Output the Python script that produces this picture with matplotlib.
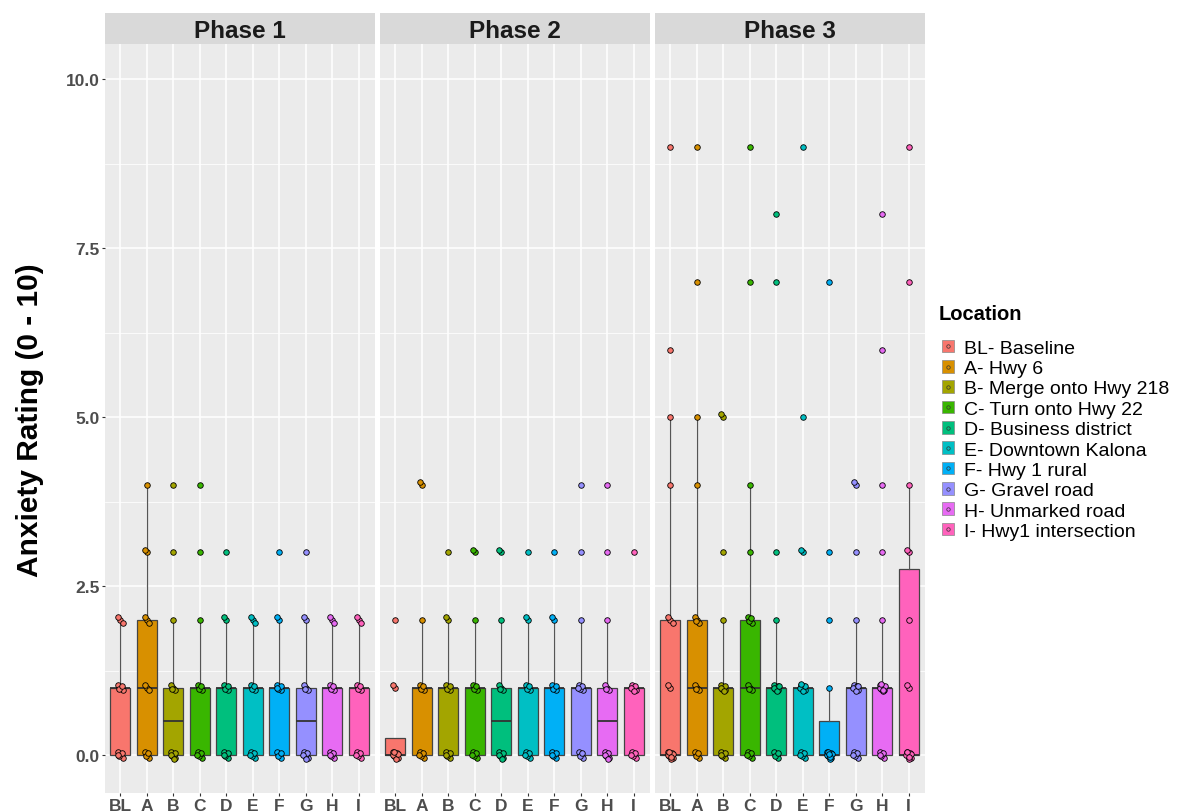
import numpy as np
import matplotlib.pyplot as plt
from matplotlib.patches import Patch
from matplotlib.lines import Line2D

plt.rcParams['font.family'] = ['Liberation Sans', 'DejaVu Sans']

codes = ['BL', 'A', 'B', 'C', 'D', 'E', 'F', 'G', 'H', 'I']
names = ['BL- Baseline', 'A- Hwy 6', 'B- Merge onto Hwy 218', 'C- Turn onto Hwy 22',
         'D- Business district', 'E- Downtown Kalona', 'F- Hwy 1 rural',
         'G- Gravel road', 'H- Unmarked road', 'I- Hwy1 intersection']
colors = ['#F8766D', '#D89000', '#A3A500', '#39B600', '#00BF7D',
          '#00BFC4', '#00B0F6', '#9590FF', '#E76BF3', '#FF62BC']
phases = ['Phase 1', 'Phase 2', 'Phase 3']

# ratings per location (BL, A ... I)
phase1 = [
    [0, 0, 0, 0, 0, 0, 1, 1, 1, 1, 1, 2, 2, 2],
    [0, 0, 0, 0, 0, 1, 1, 1, 2, 2, 2, 3, 3, 4],
    [0, 0, 0, 0, 0, 0, 0, 1, 1, 1, 1, 2, 3, 4],
    [0, 0, 0, 0, 0, 0, 1, 1, 1, 1, 1, 2, 3, 4],
    [0, 0, 0, 0, 0, 0, 1, 1, 1, 1, 1, 2, 2, 3],
    [0, 0, 0, 0, 0, 0, 1, 1, 1, 1, 1, 2, 2, 2],
    [0, 0, 0, 0, 0, 1, 1, 1, 1, 1, 1, 2, 2, 3],
    [0, 0, 0, 0, 0, 0, 0, 1, 1, 1, 1, 2, 2, 3],
    [0, 0, 0, 0, 0, 0, 1, 1, 1, 1, 1, 2, 2, 2],
    [0, 0, 0, 0, 0, 0, 1, 1, 1, 1, 1, 2, 2, 2],
]
phase2 = [
    [0, 0, 0, 0, 0, 0, 0, 0, 0, 1, 1, 2],
    [0, 0, 0, 0, 0, 0, 1, 1, 1, 1, 1, 2, 4, 4],
    [0, 0, 0, 0, 0, 0, 1, 1, 1, 1, 1, 2, 2, 3],
    [0, 0, 0, 0, 0, 0, 1, 1, 1, 1, 1, 2, 3, 3],
    [0, 0, 0, 0, 0, 0, 0, 1, 1, 1, 1, 2, 3, 3],
    [0, 0, 0, 0, 0, 0, 1, 1, 1, 1, 1, 2, 2, 3],
    [0, 0, 0, 0, 0, 0, 1, 1, 1, 1, 1, 2, 2, 3],
    [0, 0, 0, 0, 0, 1, 1, 1, 1, 1, 1, 2, 3, 4],
    [0, 0, 0, 0, 0, 0, 0, 1, 1, 1, 1, 2, 3, 4],
    [0, 0, 0, 0, 0, 0, 1, 1, 1, 1, 1, 1, 1, 3],
]
phase3 = [
    [0, 0, 0, 0, 0, 0, 0, 0, 0, 0, 1, 1, 2, 2, 2, 4, 5, 6, 9],
    [0, 0, 0, 0, 0, 1, 1, 1, 1, 2, 2, 2, 2, 4, 5, 7, 9],
    [0, 0, 0, 0, 0, 0, 1, 1, 1, 1, 1, 1, 1, 2, 3, 5, 5],
    [0, 0, 0, 0, 0, 0, 1, 1, 1, 1, 2, 2, 2, 2, 2, 3, 4, 7, 9],
    [0, 0, 0, 0, 0, 1, 1, 1, 1, 1, 1, 1, 1, 2, 3, 7, 8],
    [0, 0, 0, 0, 0, 0, 1, 1, 1, 1, 1, 1, 1, 1, 1, 3, 3, 5, 9],
    [0, 0, 0, 0, 0, 0, 0, 0, 0, 0, 0, 1, 2, 3, 7],
    [0, 0, 0, 0, 0, 0, 1, 1, 1, 1, 1, 1, 1, 1, 2, 3, 4, 4],
    [0, 0, 0, 0, 0, 0, 1, 1, 1, 1, 1, 1, 1, 1, 1, 1, 2, 3, 4, 6, 8],
    [0, 0, 0, 0, 0, 0, 0, 0, 0, 0, 1, 1, 2, 3, 3, 4, 7, 9],
]
all_phases = [phase1, phase2, phase3]

# fixed small offsets for overlapping points (stand-in for jitter)
jx = [0.0, -0.08, 0.08, -0.04, 0.05, -0.1, 0.02, 0.1, -0.05, 0.03, -0.01]
jy = [0.0, 0.04, -0.04, -0.02, 0.03, 0.0, -0.05, 0.02, 0.05, -0.03, 0.01]

W, H = 1177, 812
fig = plt.figure(figsize=(W / 100, H / 100), dpi=100)
lefts = [104.5, 379.5, 654.5]
pw = 270.0
ptop, pbot, stop = 45.0, 794.0, 14.0

for p in range(3):
    ax = fig.add_axes([lefts[p] / W, 1 - pbot / H, pw / W, (pbot - ptop) / H])
    ax.set_facecolor('#EBEBEB')
    for s in ax.spines.values():
        s.set_visible(False)

    data = all_phases[p]
    bp = ax.boxplot(data, positions=range(1, 11), widths=0.75, patch_artist=True,
                    showfliers=False, whis=1.5,
                    medianprops=dict(color='#333333', lw=1.3),
                    whiskerprops=dict(color='#555555', lw=0.9),
                    capprops=dict(visible=False),
                    boxprops=dict(edgecolor='#444444', lw=0.9))
    for patch, c in zip(bp['boxes'], colors):
        patch.set_facecolor(c)
        patch.set_zorder(2)

    for i, vals in enumerate(data):
        seen = {}
        xs, ys = [], []
        for v in vals:
            k = seen.get(v, 0)
            seen[v] = k + 1
            xs.append(i + 1 + jx[k % len(jx)])
            ys.append(v + jy[k % len(jy)])
        ax.scatter(xs, ys, s=16, facecolor=colors[i], edgecolor='black',
                   linewidths=0.6, zorder=4)

    ax.set_xlim(0.4, 10.6)
    ax.set_ylim(-0.56, 10.52)
    ax.set_yticks([0, 2.5, 5, 7.5, 10])
    ax.set_yticks([1.25, 3.75, 6.25, 8.75], minor=True)
    ax.set_xticks(range(1, 11))
    ax.set_xticklabels(codes, fontweight='bold')
    ax.grid(True, which='major', color='white', lw=1.1, zorder=0)
    ax.grid(True, which='minor', axis='y', color='white', lw=0.55, zorder=0)
    ax.set_axisbelow(True)
    ax.tick_params(axis='both', which='major', length=2.5, width=0.8, color='#333333',
                   labelcolor='#4D4D4D', labelsize=12.5, pad=1)
    ax.tick_params(axis='y', which='minor', length=0)
    if p == 0:
        ax.set_yticklabels(['0.0', '2.5', '5.0', '7.5', '10.0'], fontweight='bold')
    else:
        ax.tick_params(axis='y', labelleft=False, length=0)

    # facet strip
    sax = fig.add_axes([lefts[p] / W, 1 - ptop / H, pw / W, (ptop - stop) / H])
    sax.set_facecolor('#D9D9D9')
    sax.set_xticks([])
    sax.set_yticks([])
    for s in sax.spines.values():
        s.set_visible(False)
    sax.text(0.5, 0.42, phases[p], ha='center', va='center', fontsize=17.5,
             fontweight='bold', color='#1A1A1A', transform=sax.transAxes)

fig.text(30 / W, 1 - 420 / H, 'Anxiety Rating (0 - 10)', rotation=90, ha='center',
         va='center', fontsize=21.5, fontweight='bold', color='black')

fig.text(939 / W, 1 - 315 / H, 'Location', ha='left', va='center', fontsize=14.5,
         fontweight='bold', color='black')

handles = [(Patch(facecolor=c, edgecolor='#888888', lw=0.5),
            Line2D([], [], marker='o', ls='', markersize=2.5, markerfacecolor=c,
                   markeredgecolor='#333333', markeredgewidth=0.5))
           for c in colors]
leg = fig.legend(handles, names, loc='upper left', bbox_to_anchor=(928 / W, 1 - 327 / H),
                 frameon=False, fontsize=14,
                 handlelength=0.62, handleheight=0.62, handletextpad=0.55,
                 labelspacing=0.165, borderpad=0.2)

fig.savefig('out.png', dpi=100, facecolor='white')
